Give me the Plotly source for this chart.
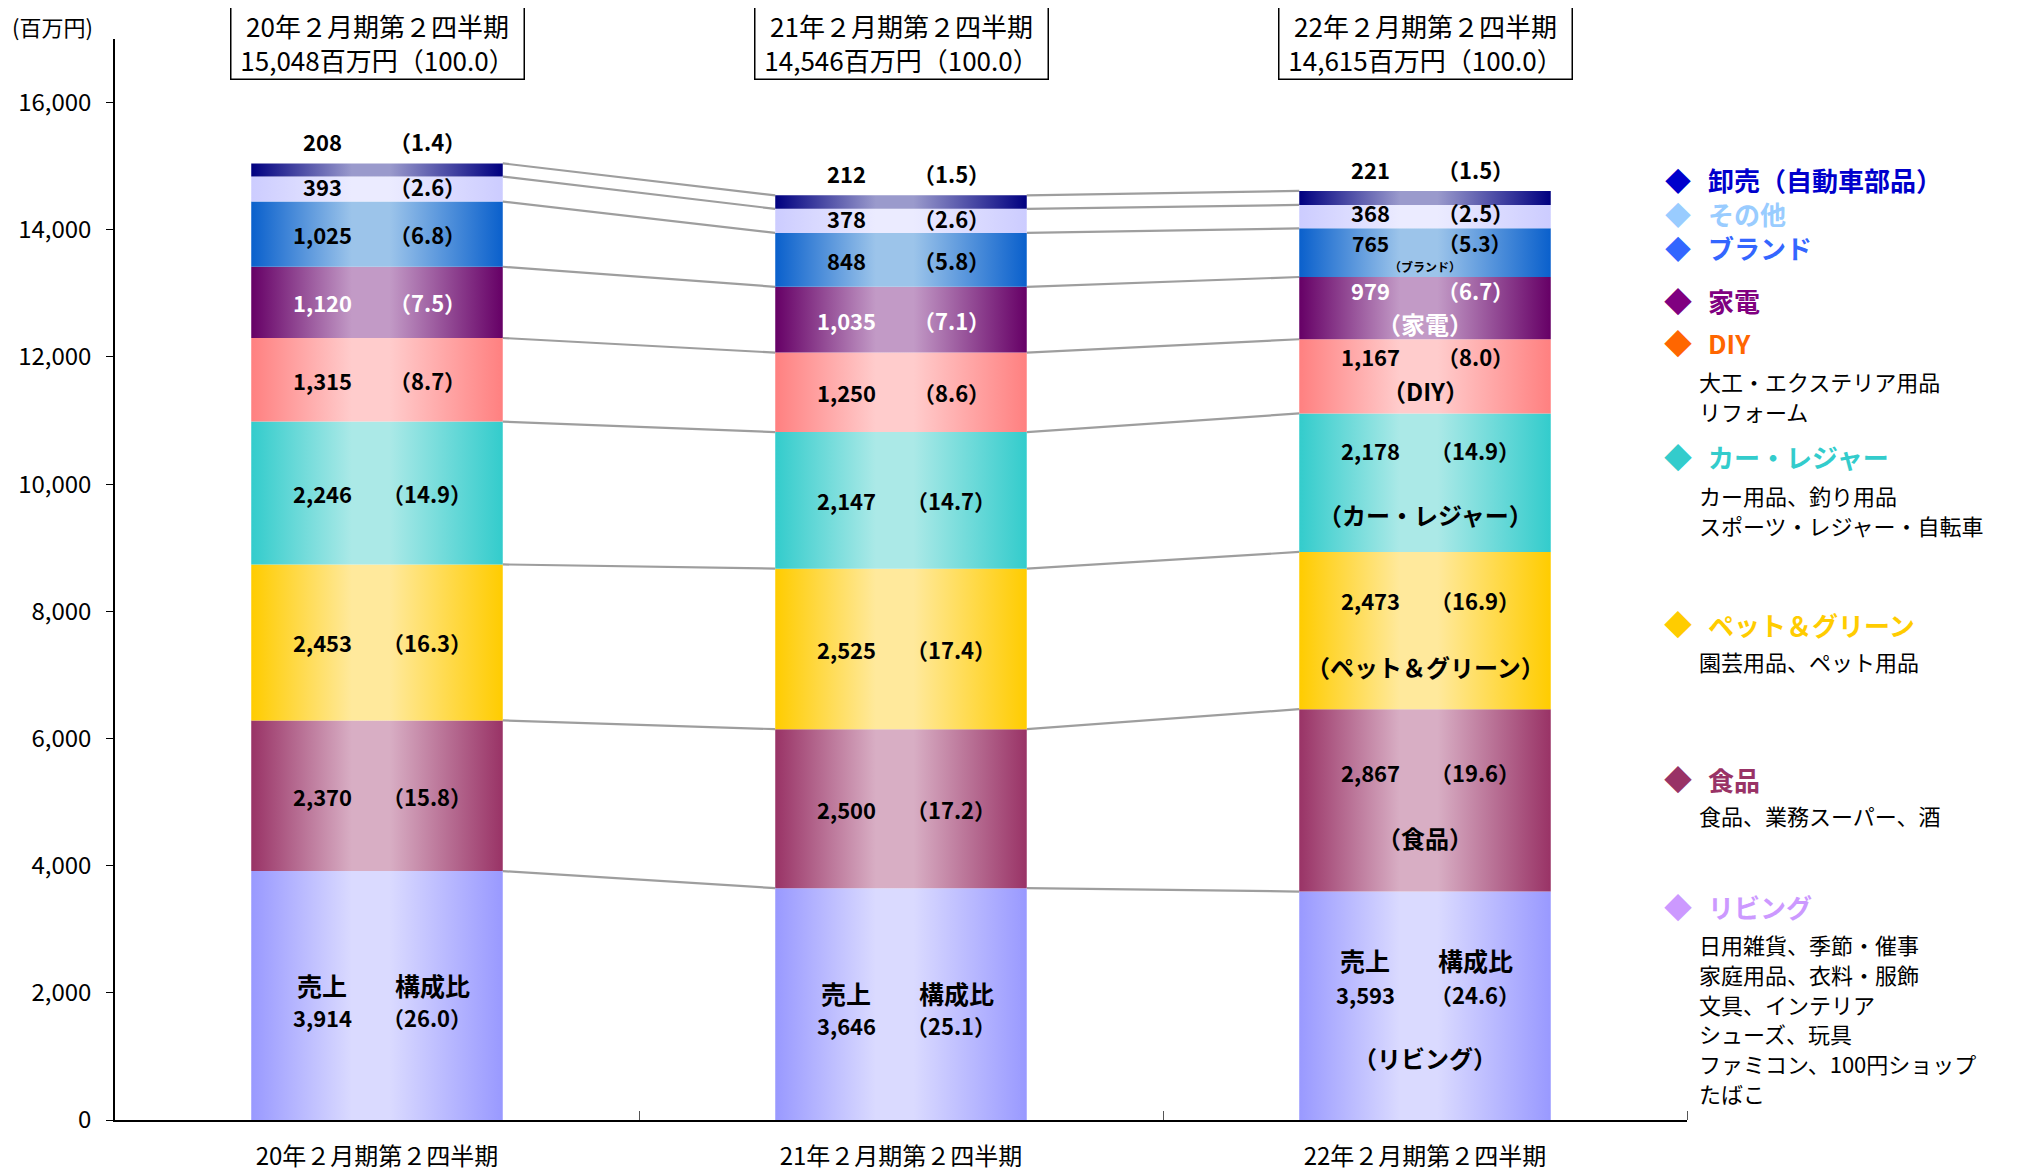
import plotly.graph_objects as go

# ---------------- data ----------------
periods = ["20年２月期第２四半期", "21年２月期第２四半期", "22年２月期第２四半期"]
totals = ["15,048", "14,546", "14,615"]

segments = ["リビング", "食品", "ペット＆グリーン", "カー・レジャー", "DIY",
            "家電", "ブランド", "その他", "卸売（自動車部品）"]

living = [3914, 3646, 3593]
food = [2370, 2500, 2867]
pet = [2453, 2525, 2473]
car = [2246, 2147, 2178]
diy = [1315, 1250, 1167]
kaden = [1120, 1035, 979]
brand = [1025, 848, 765]
other = [393, 378, 368]
wholesale = [208, 212, 221]

living_pct = [26.0, 25.1, 24.6]
food_pct = [15.8, 17.2, 19.6]
pet_pct = [16.3, 17.4, 16.9]
car_pct = [14.9, 14.7, 14.9]
diy_pct = [8.7, 8.6, 8.0]
kaden_pct = [7.5, 7.1, 6.7]
brand_pct = [6.8, 5.8, 5.3]
other_pct = [2.6, 2.6, 2.5]
wholesale_pct = [1.4, 1.5, 1.5]

values = [living, food, pet, car, diy, kaden, brand, other, wholesale]
pcts = [living_pct, food_pct, pet_pct, car_pct, diy_pct, kaden_pct, brand_pct, other_pct, wholesale_pct]

bar3_names = ["（リビング）", "（食品）", "（ペット＆グリーン）", "（カー・レジャー）",
              "（DIY）", "（家電）", "（ブランド）", None, None]

legend_top = [("卸売（自動車部品）", "#0000CC"), ("その他", "#99CCFF"), ("ブランド", "#3366FF")]
legend_items = [
    ("家電", "#800080", []),
    ("DIY", "#FF6600", ["大工・エクステリア用品", "リフォーム"]),
    ("カー・レジャー", "#33CCCC", ["カー用品、釣り用品", "スポーツ・レジャー・自転車"]),
    ("ペット＆グリーン", "#FFCC00", ["園芸用品、ペット用品"]),
    ("食品", "#993366", ["食品、業務スーパー、酒"]),
    ("リビング", "#CC99FF", ["日用雑貨、季節・催事", "家庭用品、衣料・服飾", "文具、インテリア",
                          "シューズ、玩具", "ファミコン、100円ショップ", "たばこ"]),
]

# ---------------- styles ----------------
FONT = "Noto Sans CJK JP"
edge_colors = ["#9999FF", "#993366", "#FFCC00", "#33CCCC", "#FF8080",
               "#660066", "#0A60CC", "#CCCCFF", "#000080"]
center_colors = ["#DADAFF", "#D8AEC4", "#FFE99C", "#ABE9E7", "#FFCCCC",
                 "#C29AC6", "#9CC4EA", "#EBEBFF", "#9A9ACC"]
label_colors = ["black", "black", "black", "black", "black", "white", "black", "black", "black"]

OFF = 8                      # page body margin
W, H = 2018 - OFF, 1172 - OFF
L, R, T, B = 115, 1687, 39, 1120   # plot area in page pixels
BAR_W = 0.48
h = BAR_W / 2


def px_x(px):
    return (px - L) / (R - L)


def px_y(py):
    return (B - py) / (B - T)


fig = go.Figure()

n = len(periods)
bases, tops = [], []
for i in range(n):
    b = 0
    bl, tl = [], []
    for k in range(len(segments)):
        bl.append(b)
        b += values[k][i]
        tl.append(b)
    bases.append(bl)
    tops.append(tl)

# connector lines
cx, cy = [], []
for k in range(len(segments)):
    for i in range(n - 1):
        cx += [i + h, i + 1 - h, None]
        cy += [tops[i][k], tops[i + 1][k], None]
fig.add_trace(go.Scatter(x=cx, y=cy, mode="lines", line=dict(color="#9E9E9E", width=2.2),
                         hoverinfo="skip", showlegend=False))

# bar segments with horizontal gradients
for k in range(len(segments)):
    cs = [[0, edge_colors[k]], [0.4, center_colors[k]], [0.55, center_colors[k]], [1, edge_colors[k]]]
    for i in range(n):
        b0 = bases[i][k]
        b1 = tops[i][k]
        fig.add_trace(go.Scatter(
            x=[i - h, i + h, i + h, i - h, i - h],
            y=[b0, b0, b1, b1, b0],
            mode="lines", fill="toself",
            fillgradient=dict(type="horizontal", colorscale=cs),
            line=dict(width=0, color=edge_colors[k]),
            hoverinfo="skip", showlegend=False, name=segments[k]))

annotations = []


def add_text(x, y, text, size, color="black", xshift=0, yshift=0, bold=True):
    annotations.append(dict(
        x=x, y=y, xref="x", yref="y", text=("<b>%s</b>" % text) if bold else text,
        showarrow=False, xanchor="center", yanchor="middle", xshift=xshift, yshift=yshift,
        font=dict(family=FONT, size=size, color=color)))


VAL_DX, PCT_DX = -55, 50
LBL = 22
NAME = 24
# bar-3 (value line, name line) offsets in px downward from segment middle
bar3_offsets = {1: (-28, 37), 2: (-31, 36), 3: (-33, 32), 4: (-20, 14), 5: (-18, 15), 6: (-10, 14)}

for i in range(n):
    for k in range(len(segments)):
        v = values[k][i]
        p = pcts[k][i]
        mid = (bases[i][k] + tops[i][k]) / 2
        col = label_colors[k]
        vt = f"{v:,}"
        pt = f"（{p:.1f}）"
        if k == 0:
            if i < 2:
                hy, vy = -11, 21
                hdx = 0
            else:
                hy, vy = -46, -12
                hdx = -5
            add_text(i, mid, "売上", 25, col, xshift=VAL_DX + hdx, yshift=-hy)
            add_text(i, mid, "構成比", 25, col, xshift=PCT_DX + 5 + hdx, yshift=-hy)
            add_text(i, mid, vt, LBL, col, xshift=VAL_DX + hdx, yshift=-vy)
            add_text(i, mid, pt, LBL, col, xshift=PCT_DX, yshift=-vy)
            if i == 2:
                add_text(i, mid, bar3_names[k], NAME, col, yshift=-52)
        elif k == len(segments) - 1:
            add_text(i, tops[i][k], vt, LBL, col, xshift=VAL_DX, yshift=22)
            add_text(i, tops[i][k], pt, LBL, col, xshift=PCT_DX, yshift=22)
        else:
            off = (-5 if i == 2 else -3) if k == 7 else 0
            if i == 2 and k in bar3_offsets:
                vo, no = bar3_offsets[k]
                vs = 21 if k == 6 else LBL
                add_text(i, mid, vt, vs, col, xshift=VAL_DX, yshift=-vo)
                add_text(i, mid, pt, vs, col, xshift=PCT_DX, yshift=-vo)
                add_text(i, mid, bar3_names[k], 12 if k == 6 else NAME, col, yshift=-no)
            else:
                add_text(i, mid, vt, LBL, col, xshift=VAL_DX, yshift=-off)
                add_text(i, mid, pt, LBL, col, xshift=PCT_DX, yshift=-off)

# header boxes
for i in range(n):
    annotations.append(dict(
        x=i, y=px_y(43), xref="x", yref="paper",
        text=f"{periods[i]}<br>{totals[i]}百万円（100.0）",
        showarrow=False, xanchor="center", yanchor="middle",
        width=288, height=68, borderpad=2, bordercolor="black", borderwidth=1.5,
        bgcolor="white", font=dict(family=FONT, size=26, color="black")))

# unit label
annotations.append(dict(x=px_x(10), y=px_y(26), xref="paper", yref="paper", text="(百万円)",
                        showarrow=False, xanchor="left", yanchor="middle",
                        font=dict(family=FONT, size=22, color="black")))

# custom legend: top block (three tightly packed lines)
top_center = 213.5
annotations.append(dict(
    x=px_x(1678), y=px_y(top_center), xref="paper", yref="paper",
    text="<br>".join(f"<span style='color:{c}'>◆</span>" for _, c in legend_top),
    showarrow=False, xanchor="center", yanchor="middle",
    font=dict(family=FONT, size=26, color="black")))
annotations.append(dict(
    x=px_x(1706), y=px_y(top_center), xref="paper", yref="paper", align="left",
    text="<b>" + "<br>".join(f"<span style='color:{c}'>{nm}</span>" for nm, c in legend_top) + "</b>",
    showarrow=False, xanchor="left", yanchor="middle",
    font=dict(family=FONT, size=26, color="black")))

head_y = [301, 343, 457, 624, 779, 907]
desc_first = [None, 381, 495, 661, 815, 944]
DESC_PITCH = 29.8
for j, (name, color, descs) in enumerate(legend_items):
    annotations.append(dict(x=px_x(1678), y=px_y(head_y[j]), xref="paper", yref="paper", text="◆",
                            showarrow=False, xanchor="center", yanchor="middle",
                            font=dict(family=FONT, size=28, color=color)))
    annotations.append(dict(x=px_x(1706), y=px_y(head_y[j]), xref="paper", yref="paper",
                            text=f"<b>{name}</b>", showarrow=False, xanchor="left", yanchor="middle",
                            font=dict(family=FONT, size=26, color=color)))
    for m, d in enumerate(descs):
        annotations.append(dict(x=px_x(1697), y=px_y(desc_first[j] + m * DESC_PITCH),
                                xref="paper", yref="paper", text=d,
                                showarrow=False, xanchor="left", yanchor="middle",
                                font=dict(family=FONT, size=22, color="black")))

fig.update_layout(
    width=W, height=H,
    margin=dict(l=L - OFF, r=W - (R - OFF), t=T - OFF, b=H - (B - OFF), autoexpand=False),
    plot_bgcolor="white", paper_bgcolor="white",
    showlegend=False,
    annotations=annotations,
    font=dict(family=FONT, color="black"),
    xaxis=dict(range=[-0.5, 2.5], tickmode="array", tickvals=list(range(n)), ticktext=periods,
               ticks="", showgrid=False, zeroline=False, showline=True, linecolor="black", linewidth=1.5,
               tickfont=dict(family=FONT, size=24, color="black"), ticklabelstandoff=14,
               minor=dict(tickmode="array", tickvals=[0.5, 1.5, 2.5], ticks="inside", ticklen=9,
                          tickcolor="#555555", tickwidth=1, showgrid=False),
               fixedrange=True, automargin=False),
    yaxis=dict(range=[0, 17000], tickmode="array", tickvals=list(range(0, 16001, 2000)),
               tickformat=",d", ticks="outside", ticklen=7, tickcolor="black", tickwidth=1,
               showgrid=False, zeroline=False, showline=True, linecolor="black", linewidth=1.5,
               tickfont=dict(family=FONT, size=24, color="black"), ticklabelstandoff=10,
               fixedrange=True, automargin=False),
)

fig.write_html("out.html")
